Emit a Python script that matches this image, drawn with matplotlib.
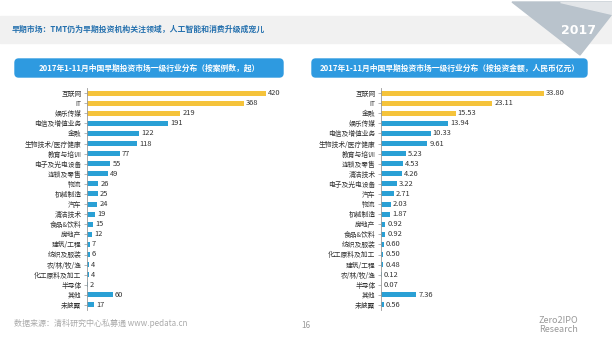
import matplotlib.pyplot as plt
from matplotlib.patches import FancyBboxPatch, Polygon, Rectangle

plt.rcParams['font.family'] = ['Noto Sans CJK SC', 'DejaVu Sans']

# === Data ===
left_title = "2017年1-11月中国早期投资市场一级行业分布（按案例数，起）"
left_cats = ["互联网", "IT", "娱乐传媒", "电信及增值业务", "金融", "生物技术/医疗健康",
             "教育与培训", "电子及光电设备", "连锁及零售", "物流", "机械制造", "汽车",
             "清洁技术", "食品&饮料", "房地产", "建筑/工程", "纺织及服装", "农/林/牧/渔",
             "化工原料及加工", "半导体", "其他", "未披露"]
left_vals = [420, 368, 219, 191, 122, 118, 77, 55, 49, 26, 25, 24, 19, 15, 12, 7, 6, 4, 4, 2, 60, 17]
left_top = 3

right_title = "2017年1-11月中国早期投资市场一级行业分布（按投资金额，人民币亿元）"
right_cats = ["互联网", "IT", "金融", "娱乐传媒", "电信及增值业务", "生物技术/医疗健康",
              "教育与培训", "连锁及零售", "清洁技术", "电子及光电设备", "汽车", "物流",
              "机械制造", "房地产", "食品&饮料", "纺织及服装", "化工原料及加工", "建筑/工程",
              "农/林/牧/渔", "半导体", "其他", "未披露"]
right_vals = [33.80, 23.11, 15.53, 13.94, 10.33, 9.61, 5.23, 4.53, 4.26, 3.22, 2.71, 2.03,
              1.87, 0.92, 0.92, 0.60, 0.50, 0.48, 0.12, 0.07, 7.36, 0.56]
right_top = 3

GOLD = "#F5C33B"
BLUE = "#2AA0D5"
BOX = "#2E9AE0"
W, H = 612, 343


def px(x, y):
    return x / W, 1 - y / H


fig = plt.figure(figsize=(W / 100, H / 100), dpi=100)

# header band + corner decoration
fig.patches.append(Rectangle(px(0, 43), 1, 27 / H, transform=fig.transFigure,
                             color="#F1F1F1", zorder=0))
fig.patches.append(Polygon([px(512, 2), px(612, 2), px(612, 14), px(580, 55)],
                           closed=True, transform=fig.transFigure, color="#B9C3CC", zorder=1))
fig.patches.append(Polygon([px(560, 2), px(612, 2), px(612, 14)],
                           closed=True, transform=fig.transFigure, color="#E3E6E9", zorder=1))
fig.text(*px(578, 30), "2017", color="white", fontsize=9, fontweight="bold",
         ha="center", va="center", family="Liberation Sans Narrow")
fig.text(*px(12, 29), "早期市场：TMT仍为早期投资机构关注领域，人工智能和消费升级成宠儿",
         color="#2470AE", fontsize=5.7, fontweight="bold", va="center")


def panel(cats, vals, top, title, ax_left, bar_end_px, vmax, box, fmt):
    ax = fig.add_axes([ax_left / W, (H - 310) / H, 200 / W, 222 / H])
    colors = [GOLD if i < top else BLUE for i in range(len(vals))]
    y = list(range(len(cats)))
    ax.barh(y, vals, height=0.5, color=colors)
    ax.set_ylim(len(cats) - 0.5, -0.5)
    ax.set_xlim(0, vmax * 200 / (bar_end_px - ax_left))
    ax.set_yticks(y)
    ax.set_yticklabels(cats, fontsize=4.9, color="#333333")
    ax.tick_params(axis="y", length=2, width=0.5, color="#999999", pad=2)
    ax.set_xticks([])
    for s in ["top", "right", "bottom"]:
        ax.spines[s].set_visible(False)
    ax.spines["left"].set_color("#999999")
    ax.spines["left"].set_linewidth(0.6)
    ax.patch.set_alpha(0)
    off = vmax * 0.012
    for yi, v in zip(y, vals):
        ax.text(v + off, yi, fmt(v), fontsize=5.4, color="#333333", va="center")

    x0, x1 = box
    fig.patches.append(FancyBboxPatch(px(x0, 77), (x1 - x0) / W, 18 / H,
                                      boxstyle="round,pad=0,rounding_size=0.006",
                                      transform=fig.transFigure, color=BOX, zorder=1,
                                      mutation_aspect=W / H))
    fig.text(*px((x0 + x1) / 2, 68), title, color="white", fontsize=5.6,
             fontweight="bold", ha="center", va="center")


panel(left_cats, left_vals, left_top, left_title, 87, 266, 420, (15, 283), lambda v: f"{v}")
panel(right_cats, right_vals, right_top, right_title, 381, 544, 33.80, (312, 587), lambda v: f"{v:.2f}")

fig.text(*px(14, 324), "数据来源：清科研究中心私募通 www.pedata.cn", color="#AAAAAA",
         fontsize=5.8, va="center")
fig.text(*px(306, 325), "16", color="#999999", fontsize=5.8, ha="center", va="center")
fig.text(*px(578, 325), "Zero2IPO\nResearch", color="#999999", fontsize=6.5,
         ha="right", va="center", linespacing=0.95, fontweight="light")

fig.savefig("out.png", dpi=100)
